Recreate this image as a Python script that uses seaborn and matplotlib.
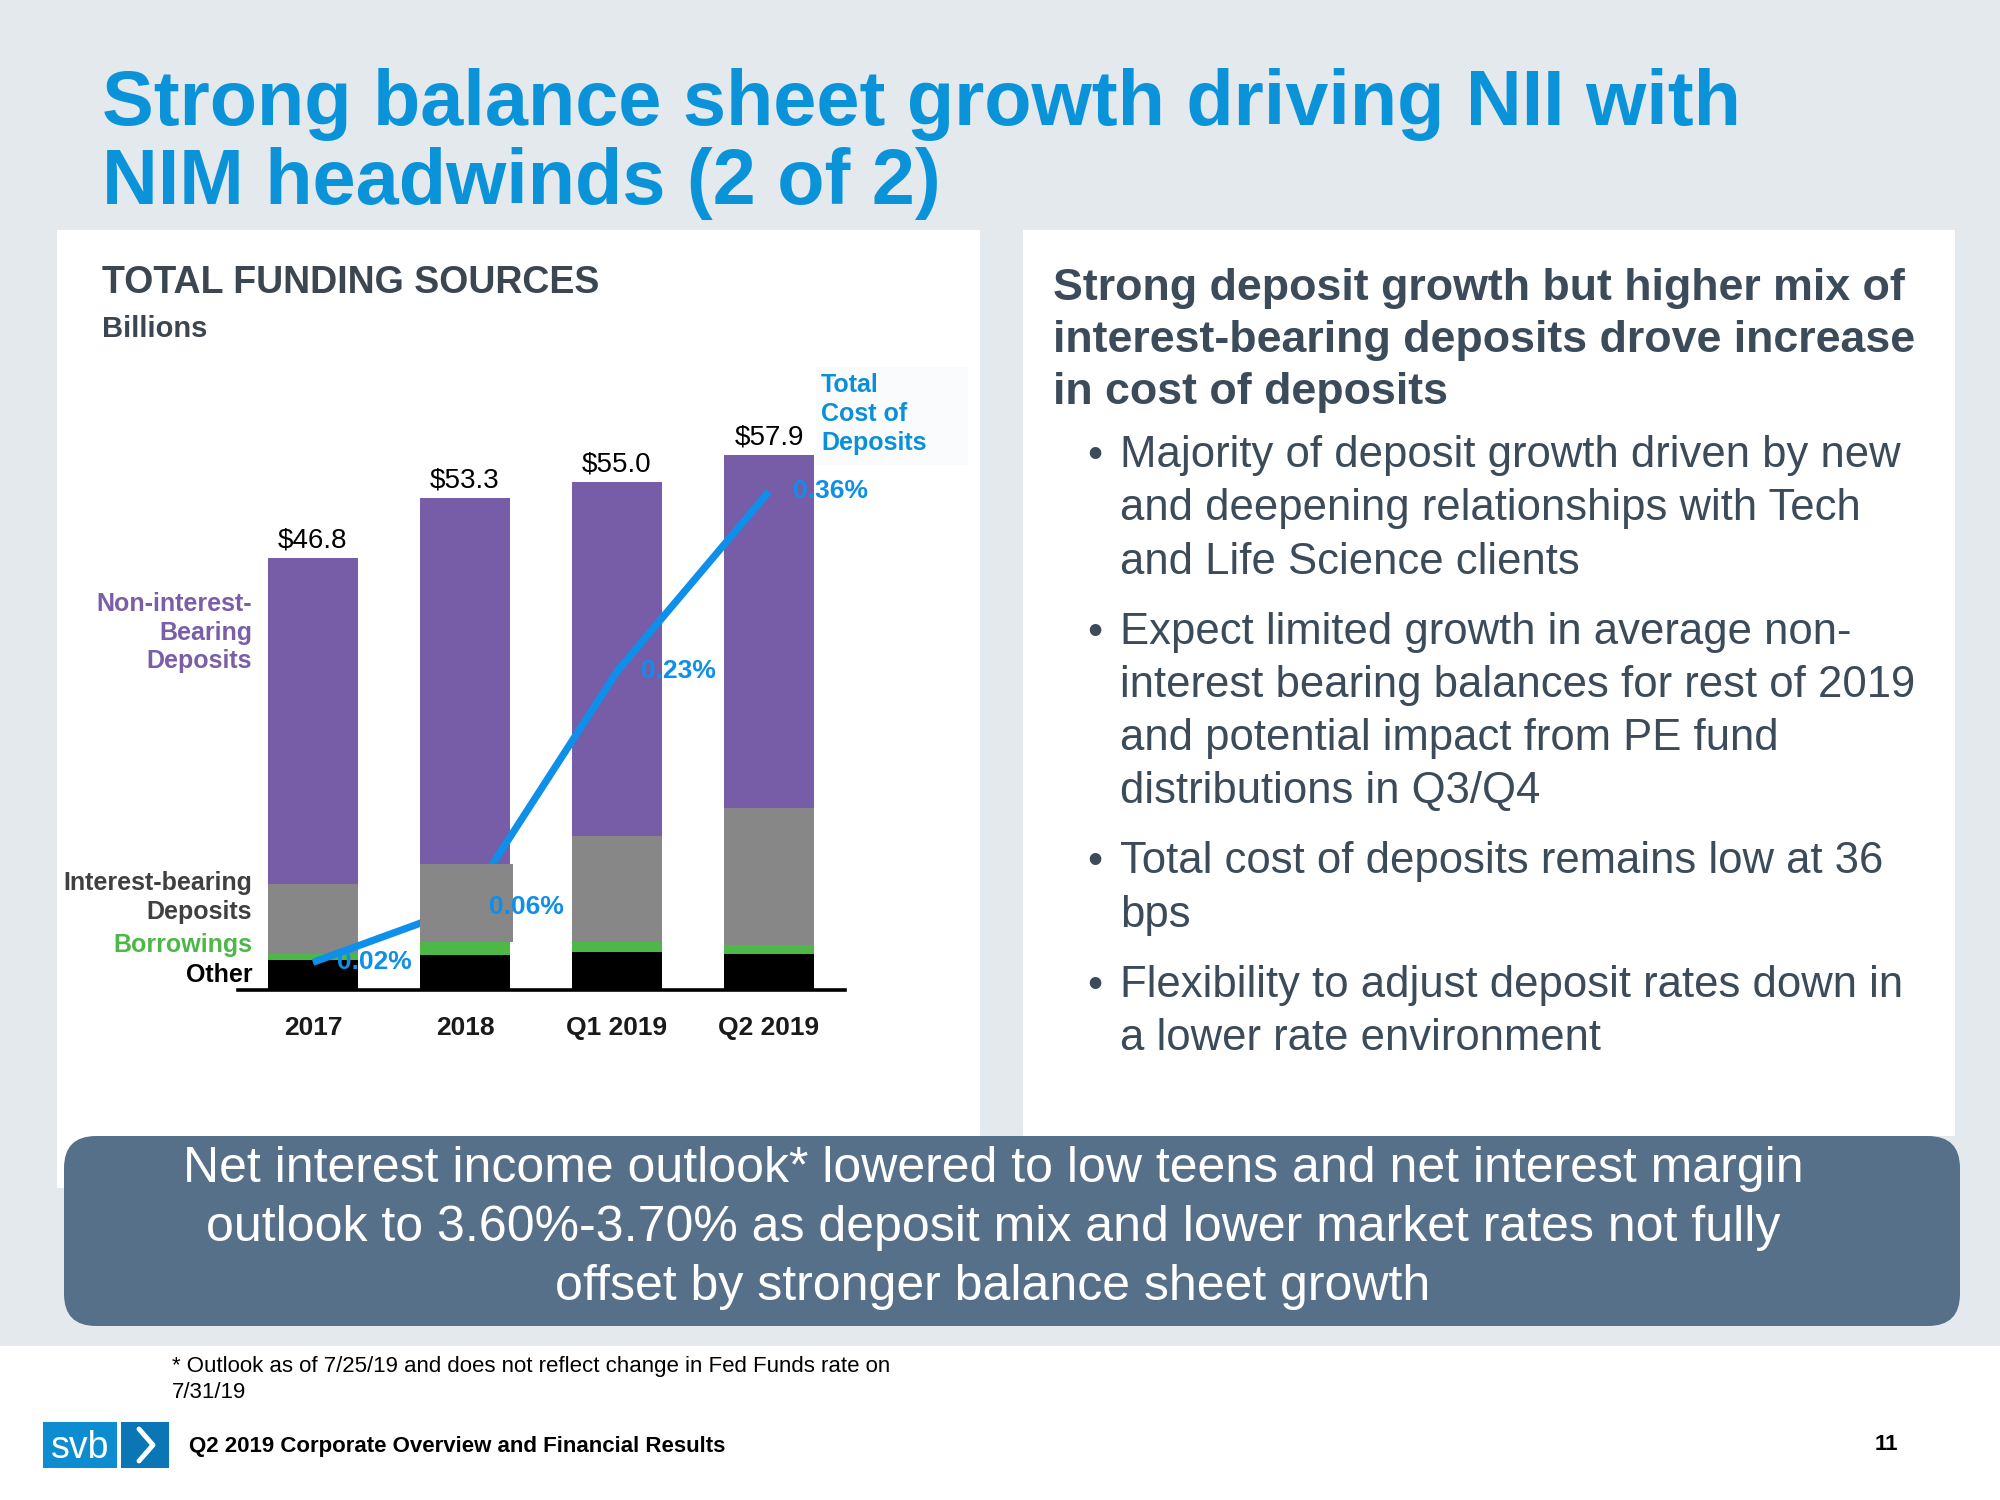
import numpy as np
import matplotlib
matplotlib.use("Agg")
import matplotlib.pyplot as plt
from matplotlib.patches import Rectangle, FancyBboxPatch
from matplotlib.lines import Line2D
import seaborn as sns

# data (billions / percent)
categories = ["2017", "2018", "Q1 2019", "Q2 2019"]
other = [3.2, 3.8, 4.1, 3.9]
borrowings = [0.7, 1.4, 1.1, 1.0]
interest_bearing = [7.6, 8.4, 11.5, 14.8]
non_interest_bearing = [35.3, 39.7, 38.3, 38.2]
totals = [46.8, 53.3, 55.0, 57.9]
cost_of_deposits = [0.02, 0.06, 0.23, 0.36]

heading = ["Strong deposit growth but higher mix of",
           "interest-bearing deposits drove increase",
           "in cost of deposits"]
bullets = [
    ["Majority of deposit growth driven by new",
     "and deepening relationships with Tech",
     "and Life Science clients"],
    ["Expect limited growth in average non-",
     "interest bearing balances for rest of 2019",
     "and potential impact from PE fund",
     "distributions in Q3/Q4"],
    ["Total cost of deposits remains low at 36",
     "bps"],
    ["Flexibility to adjust deposit rates down in",
     "a lower rate environment"],
]
outlook = ["Net interest income outlook* lowered to low teens and net interest margin",
           "outlook to 3.60%-3.70% as deposit mix and lower market rates not fully",
           "offset by stronger balance sheet growth"]

PURPLE = "#775DA8"
GRAY = "#878787"
GREEN = "#4DB748"
LINE_BLUE = "#0D8FEA"
TITLE_BLUE = "#0B93D9"
SLATE = "#3B4B5A"
BG = "#E4E9ED"

sns.set_style("white")
plt.rcParams["font.family"] = ["Liberation Sans", "DejaVu Sans"]

W, H = 2000, 1500
fig = plt.figure(figsize=(20, 15), dpi=100)
fig.patch.set_facecolor("white")


def fx(x):
    return x / W


def fy(y):
    return 1 - y / H


def box(x0, y0, x1, y1, color, z):
    fig.add_artist(Rectangle((fx(x0), fy(y1)), (x1 - x0) / W, (y1 - y0) / H,
                             transform=fig.transFigure, facecolor=color,
                             edgecolor="none", zorder=z))


def txt(x, y, s, **kw):
    fig.text(fx(x), fy(y), s, **kw)


# slide background and panels
box(0, 0, W, 1346, BG, -3)
box(57, 230, 980, 1188, "white", -2)
box(1023, 230, 1955, 1136, "white", -2)
fig.add_artist(FancyBboxPatch((fx(64), fy(1326)), (1960 - 64) / W, (1326 - 1136) / H,
                              boxstyle="round,pad=0,rounding_size=0.016",
                              mutation_aspect=W / H, transform=fig.transFigure,
                              facecolor="#57708A", edgecolor="none", zorder=-1))

# title
txt(102, 125, "Strong balance sheet growth driving NII with", fontsize=55.8,
    fontweight="bold", color=TITLE_BLUE, va="baseline")
txt(102, 204, "NIM headwinds (2 of 2)", fontsize=55.8, fontweight="bold",
    color=TITLE_BLUE, va="baseline")

# left panel headers
txt(102, 293, "TOTAL FUNDING SOURCES", fontsize=27, fontweight="bold",
    color="#3B4650", va="baseline")
txt(102, 337, "Billions", fontsize=21, fontweight="bold", color="#3B4650",
    va="baseline")

# stacked bars, drawn as cumulative levels from the top down
lvl1 = np.array(other)
lvl2 = lvl1 + np.array(borrowings)
lvl3 = lvl2 + np.array(interest_bearing)
lvl4 = lvl3 + np.array(non_interest_bearing)

ax = fig.add_axes([fx(238), fy(990), (845 - 238) / W, 554 / H])
ax.patch.set_alpha(0)
for level, color in [(lvl4, PURPLE), (lvl3, GRAY), (lvl2, GREEN), (lvl1, "black")]:
    sns.barplot(x=categories, y=level, color=color, width=0.59, saturation=1,
                linewidth=0, errorbar=None, ax=ax)
ax.set_xlim(-0.493, 3.5)
ax.set_ylim(0, 60)
sns.despine(ax=ax, left=True)
ax.spines["bottom"].set_color("black")
ax.spines["bottom"].set_linewidth(2.6)
ax.set_yticks([])
ax.set_xlabel("")
ax.set_ylabel("")
ax.tick_params(axis="x", length=0, pad=19, labelsize=19, labelcolor="#1A1A1A")
for lab in ax.get_xticklabels():
    lab.set_fontweight("bold")

for i, t in enumerate(totals):
    ax.text(i, lvl4[i] + 1.15, f"${t:.1f}", ha="center", va="baseline",
            fontsize=20, color="black")

# segment names on the left
ax.text(-0.40, 38.7, "Non-interest-\nBearing\nDeposits", ha="right", va="center",
        fontsize=18, fontweight="bold", color="#7A5EA8", linespacing=1.25)
ax.text(-0.40, 10.0, "Interest-bearing\nDeposits", ha="right", va="center",
        fontsize=18, fontweight="bold", color="#404040", linespacing=1.25)
ax.text(-0.40, 4.9, "Borrowings", ha="right", va="center", fontsize=18,
        fontweight="bold", color=GREEN)
ax.text(-0.40, 1.6, "Other", ha="right", va="center", fontsize=18,
        fontweight="bold", color="black")

# cost of deposits line on its own scale
ax2 = ax.twinx()
x_idx = np.arange(len(categories))
sns.lineplot(x=x_idx, y=cost_of_deposits, ax=ax2, color=LINE_BLUE, linewidth=5.2,
             solid_capstyle="butt")
ax2.set_xlim(-0.493, 3.5)
ax2.axis("off")
for i, c in enumerate(cost_of_deposits):
    ax2.text(i + 0.16, c, f"{c:.2f}%", ha="left", va="center", fontsize=19,
             fontweight="bold", color=LINE_BLUE, zorder=4)

# the 2018 interest-bearing block sits above the line on the slide
p = ax.containers[1].patches[1]
ax2.add_patch(Rectangle((p.get_x(), lvl2[1]), p.get_width() + 0.02, interest_bearing[1],
                        transform=ax.transData, facecolor=GRAY, edgecolor="none",
                        zorder=2.5))
ax2.set_ylim(0, 0.40)

# line legend
box(816, 367, 968, 465, "#FAFBFC", -1.5)
for y, s in zip([392, 421, 450], ["Total", "Cost of", "Deposits"]):
    txt(821, y, s, fontsize=18, fontweight="bold", color="#0B8FD6", va="baseline")

# right panel
for y, s in zip([300, 352, 404], heading):
    txt(1053, y, s, fontsize=32.2, fontweight="bold", color=SLATE, va="baseline")
y = 467
for group in bullets:
    txt(1087, y, "\u2022", fontsize=31, color=SLATE, va="baseline")
    for line in group:
        txt(1120, y, line, fontsize=31.4, color=SLATE, va="baseline")
        y += 53.3
    y += 70 - 53.3

# outlook box
for y, s in zip([1182, 1241, 1300], outlook):
    txt(993, y, s, fontsize=36, color="white", ha="center", va="baseline")

# footnote and footer
txt(172, 1372, "* Outlook as of 7/25/19 and does not reflect change in Fed Funds rate on",
    fontsize=16, color="black", va="baseline")
txt(172, 1398, "7/31/19", fontsize=16, color="black", va="baseline")
txt(189, 1452, "Q2 2019 Corporate Overview and Financial Results", fontsize=16,
    fontweight="bold", color="black", va="baseline")
txt(1898, 1450, "11", fontsize=16, fontweight="bold", color="black", ha="right",
    va="baseline")

# svb logo
box(43, 1422, 117, 1468, "#0E8CD0", 1)
box(121, 1422, 169, 1468, "#0A76B6", 1)
txt(80, 1458, "svb", fontsize=27, color="white", ha="center", va="baseline", zorder=2)
fig.add_artist(Line2D([fx(139), fx(153), fx(139)], [fy(1429), fy(1445), fy(1461)],
                      transform=fig.transFigure, color="white", linewidth=3.5,
                      zorder=2))

fig.savefig("out.png", dpi=100)
